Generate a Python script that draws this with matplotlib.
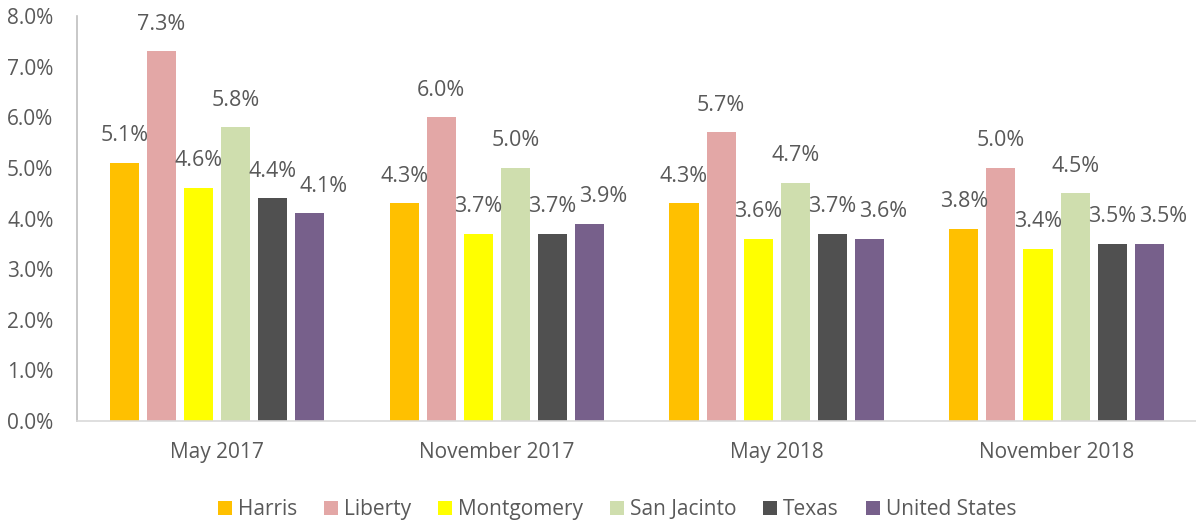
import matplotlib
matplotlib.use("Agg")
import matplotlib.pyplot as plt
import numpy as np
from matplotlib.patches import Patch

categories = ["May 2017", "November 2017", "May 2018", "November 2018"]
series_names = ["Harris", "Liberty", "Montgomery", "San Jacinto", "Texas", "United States"]
harris = [5.1, 4.3, 4.3, 3.8]
liberty = [7.3, 6.0, 5.7, 5.0]
montgomery = [4.6, 3.7, 3.6, 3.4]
san_jacinto = [5.8, 5.0, 4.7, 4.5]
texas = [4.4, 3.7, 3.7, 3.5]
united_states = [4.1, 3.9, 3.6, 3.5]
series_values = [harris, liberty, montgomery, san_jacinto, texas, united_states]
colors = ["#FFC000", "#E3A7A6", "#FFFF00", "#CFDEAE", "#505050", "#77608B"]
yticks = [0, 1, 2, 3, 4, 5, 6, 7, 8]

plt.rcParams['font.family'] = ['Open Sans', 'DejaVu Sans']
text_color = "#595959"

fig = plt.figure(figsize=(11.96, 5.25), dpi=100)
ax = fig.add_axes([0.0644, 0.198, 0.936, 0.7715])

x = np.arange(len(categories))
pitch = 0.1325
width = 0.104
n = len(series_names)
for i, (name, vals, c) in enumerate(zip(series_names, series_values, colors)):
    xs = x + (i - (n - 1) / 2) * pitch
    ax.bar(xs, vals, width=width, color=c, label=name, zorder=2)
    dx = 10 if i == n - 1 else 0
    for xi, v in zip(xs, vals):
        ax.annotate(f"{v:.1f}%", (xi, v), xytext=(dx, 12), textcoords="offset points",
                    ha="center", va="bottom", fontsize=15.5, color=text_color)

ax.set_xlim(-0.5, 3.5)
ax.set_ylim(0, 8)
ax.set_yticks(yticks)
ax.set_yticklabels([f"{t:.1f}%" for t in yticks])
ax.set_xticks(x)
ax.set_xticklabels(categories)
ax.tick_params(axis="both", length=0, labelsize=15, colors=text_color)
ax.tick_params(axis="y", pad=17)
ax.tick_params(axis="x", pad=15)
for s in ["top", "right"]:
    ax.spines[s].set_visible(False)
ax.spines["left"].set_color("#BFBFBF")
ax.spines["left"].set_linewidth(1.2)
ax.spines["bottom"].set_color("#D9D9D9")
ax.spines["bottom"].set_linewidth(1.2)

handles = [Patch(facecolor=c, label=nm) for nm, c in zip(series_names, colors)]
fig.legend(handles=handles, loc="center", bbox_to_anchor=(0.516, 0.029), ncol=6,
           frameon=False, fontsize=15, labelcolor=text_color,
           handlelength=0.65, handleheight=0.65, handletextpad=0.3, columnspacing=1.3)

fig.savefig("out.png", dpi=100)
